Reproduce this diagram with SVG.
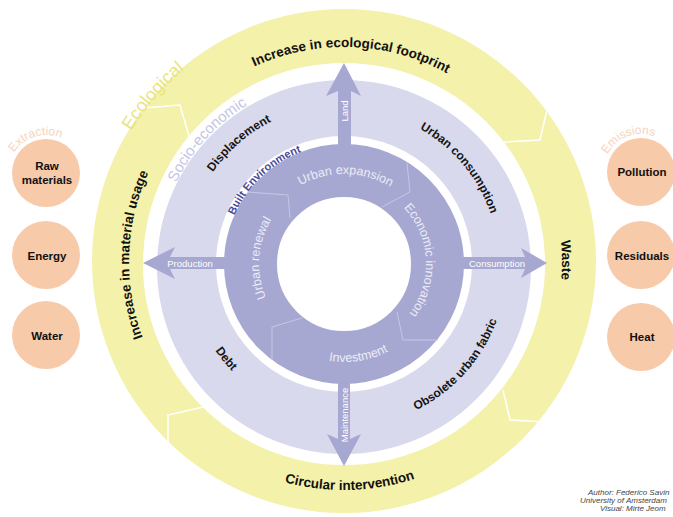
<svg xmlns="http://www.w3.org/2000/svg" width="673" height="517" viewBox="0 0 673 517">
<style>
text { font-family: "Liberation Sans", Arial, Helvetica, sans-serif; }
.lbl { font-weight: bold; font-size: 11.5px; fill: #111; }
.ring-lbl { font-weight: bold; font-size: 12px; fill: #151515; }
.yl { font-weight: bold; font-size: 13.5px; fill: #111; }
.inner { font-size: 12.5px; fill: #ececf7; }
.arrow-lbl { font-size: 9.5px; fill: #ffffff; }
.arrow { fill: #a7a8d2; }
.div-y { fill: none; stroke: #ffffff; stroke-width: 1.5; }
.div-b { fill: none; stroke: #c6c7e4; stroke-width: 1; }
.node { fill: #f7caa9; }
.cat { font-size: 12px; fill: #f7d3bc; }
.credit { font-size: 8px; font-style: italic; fill: #444; }
</style>
<defs>
<path id="p-top" d="M144.66,181.46 A215,215 0 0 1 548.48,195.56"/>
<path id="p-bottom" d="M131.86,345.56 A228,228 0 0 0 560.22,334.34"/>
<path id="p-left" d="M230.07,444.33 A215,215 0 0 1 243.06,72.17"/>
<path id="p-right" d="M509.77,120.42 A218,218 0 0 1 512.21,400.67"/>
<path id="p-eco" d="M94.04,257.64 A250,250 0 0 1 304.89,15.08"/>
<path id="p-socio" d="M158.60,289.41 A187,187 0 0 1 352.16,78.18"/>
<path id="p-built" d="M224.22,271.33 A120,120 0 0 1 357.58,144.77"/>
<path id="p-disp" d="M186.94,294.53 A160,160 0 0 1 396.09,112.72"/>
<path id="p-cons" d="M317.62,111.26 A155,155 0 0 1 489.47,317.52"/>
<path id="p-obs" d="M310.11,423.44 A163,163 0 0 0 499.02,213.63"/>
<path id="p-debt" d="M199.49,207.95 A155,155 0 0 0 367.71,417.18"/>
<path id="p-uexp" d="M266.85,217.65 A90,90 0 0 1 422.72,220.37"/>
<path id="p-econ" d="M381.23,190.94 A82,82 0 0 1 388.66,332.77"/>
<path id="p-uren" d="M296.47,334.47 A85,85 0 0 1 306.74,187.60"/>
<path id="p-inv" d="M267.84,325.67 A98,98 0 0 0 435.49,299.12"/>
<path id="p-extr" d="M8.05,171.01 A38,38 0 0 1 76.35,150.13"/>
<path id="p-emis" d="M603.01,172.66 A38,38 0 0 1 669.68,147.07"/>
</defs>

<g id="ecological-ring">
<path fill="#f4f1ab" fill-rule="evenodd" d="M344,9 A252,252 0 1 1 344,513 A252,252 0 1 1 344,9 Z M344,63 A201,201 0 1 0 344,465 A201,201 0 1 0 344,63 Z"/>
<polyline class="div-y" points="143,108 180,105 190,140"/>
<polyline class="div-y" points="547,110 540,140 504,142"/>
<polyline class="div-y" points="547,422 510,420 503,390"/>
<polyline class="div-y" points="168,445 168,415 203,407"/>
<text font-size="18" fill="#e9e47f"><textPath href="#p-eco" startOffset="50%" text-anchor="middle">Ecological</textPath></text>
<text class="yl"><textPath href="#p-top" startOffset="50%" text-anchor="middle">Increase in ecological footprint</textPath></text>
<text class="yl"><textPath href="#p-bottom" startOffset="50%" text-anchor="middle">Circular intervention</textPath></text>
<text class="yl" font-size="15"><textPath href="#p-left" startOffset="50%" text-anchor="middle">Increase in material usage</textPath></text>
<text class="yl"><textPath href="#p-right" startOffset="50%" text-anchor="middle">Waste</textPath></text>
</g>

<g id="socio-economic-ring">
<path fill="#d8d9ed" fill-rule="evenodd" d="M344,80 A187,187 0 1 1 344,454 A187,187 0 1 1 344,80 Z M344,136 A128,128 0 1 0 344,392 A128,128 0 1 0 344,136 Z"/>
<text font-size="15" fill="#c3c4e4"><textPath href="#p-socio" startOffset="50%" text-anchor="middle">Socio-economic</textPath></text>
<text class="ring-lbl"><textPath href="#p-disp" startOffset="50%" text-anchor="middle">Displacement</textPath></text>
<text class="ring-lbl"><textPath href="#p-cons" startOffset="50%" text-anchor="middle">Urban consumption</textPath></text>
<text class="ring-lbl"><textPath href="#p-obs" startOffset="50%" text-anchor="middle">Obsolete urban fabric</textPath></text>
<text class="ring-lbl"><textPath href="#p-debt" startOffset="50%" text-anchor="middle">Debt</textPath></text>
</g>

<g id="built-environment-ring">
<circle cx="344" cy="264" r="93.5" fill="none" stroke="#a7a8d2" stroke-width="53"/>
<polyline class="div-b" points="247,192 288,195 290,218"/>
<polyline class="div-b" points="407,163 410,192 382,207"/>
<polyline class="div-b" points="438,340 403,340 397,312"/>
<polyline class="div-b" points="272,360 272,327 302,318"/>
<text font-size="11" font-weight="bold" fill="#4b4b98"><textPath href="#p-built" startOffset="50%" text-anchor="middle">Built Environment</textPath></text>
<text class="inner" font-size="13"><textPath href="#p-uexp" startOffset="50%" text-anchor="middle">Urban expansion</textPath></text>
<text class="inner"><textPath href="#p-econ" startOffset="50%" text-anchor="middle">Economic innovation</textPath></text>
<text class="inner"><textPath href="#p-uren" startOffset="50%" text-anchor="middle">Urban renewal</textPath></text>
<text class="inner"><textPath href="#p-inv" startOffset="50%" text-anchor="middle">Investment</textPath></text>
</g>

<g id="connectors">
<g id="arrow-land">
<polygon class="arrow" points="344,63 361,96 351,91 351,150 338,150 338,91 326,96"/>
<text class="arrow-lbl" text-anchor="middle" transform="translate(347.5,111) rotate(-90)">Land</text>
</g>
<g id="arrow-production">
<polygon class="arrow" points="143,263 175,247 170,257 228,257 228,269 170,269 175,279"/>
<text class="arrow-lbl" x="190" y="266.5" text-anchor="middle">Production</text>
</g>
<g id="arrow-consumption">
<polygon class="arrow" points="547,263 521,248 525,257 460,257 460,269 525,269 521,278"/>
<text class="arrow-lbl" x="497" y="266.5" text-anchor="middle">Consumption</text>
</g>
<g id="arrow-maintenance">
<polygon class="arrow" points="344,466 361,434 350,439 350,380 338,380 338,439 327,434"/>
<text class="arrow-lbl" text-anchor="middle" transform="translate(347.5,415) rotate(-90)">Maintenance</text>
</g>
</g>

<g id="extraction">
<text class="cat"><textPath href="#p-extr" startOffset="50%" text-anchor="middle">Extraction</textPath></text>
<g id="node-raw-materials">
<circle class="node" cx="46" cy="173" r="34"/>
<text class="lbl" x="47" y="170" text-anchor="middle">Raw</text>
<text class="lbl" x="47" y="184" text-anchor="middle">materials</text>
</g>
<g id="node-energy">
<circle class="node" cx="46" cy="255" r="34"/>
<text class="lbl" x="47" y="260" text-anchor="middle">Energy</text>
</g>
<g id="node-water">
<circle class="node" cx="46" cy="335" r="34"/>
<text class="lbl" x="47" y="340" text-anchor="middle">Water</text>
</g>
</g>

<g id="emissions">
<text class="cat"><textPath href="#p-emis" startOffset="50%" text-anchor="middle">Emissions</textPath></text>
<g id="node-pollution">
<circle class="node" cx="641" cy="172" r="34"/>
<text class="lbl" x="642" y="176" text-anchor="middle">Pollution</text>
</g>
<g id="node-residuals">
<circle class="node" cx="641" cy="255" r="34"/>
<text class="lbl" x="642" y="260" text-anchor="middle">Residuals</text>
</g>
<g id="node-heat">
<circle class="node" cx="641" cy="337" r="34"/>
<text class="lbl" x="642" y="341" text-anchor="middle">Heat</text>
</g>
</g>

<g id="credits">
<text class="credit" x="588" y="495">Author: Federico Savin</text>
<text class="credit" x="580" y="503">University of Amsterdam</text>
<text class="credit" x="600" y="511">Visual: Mirte Jeom</text>
</g>
</svg>
